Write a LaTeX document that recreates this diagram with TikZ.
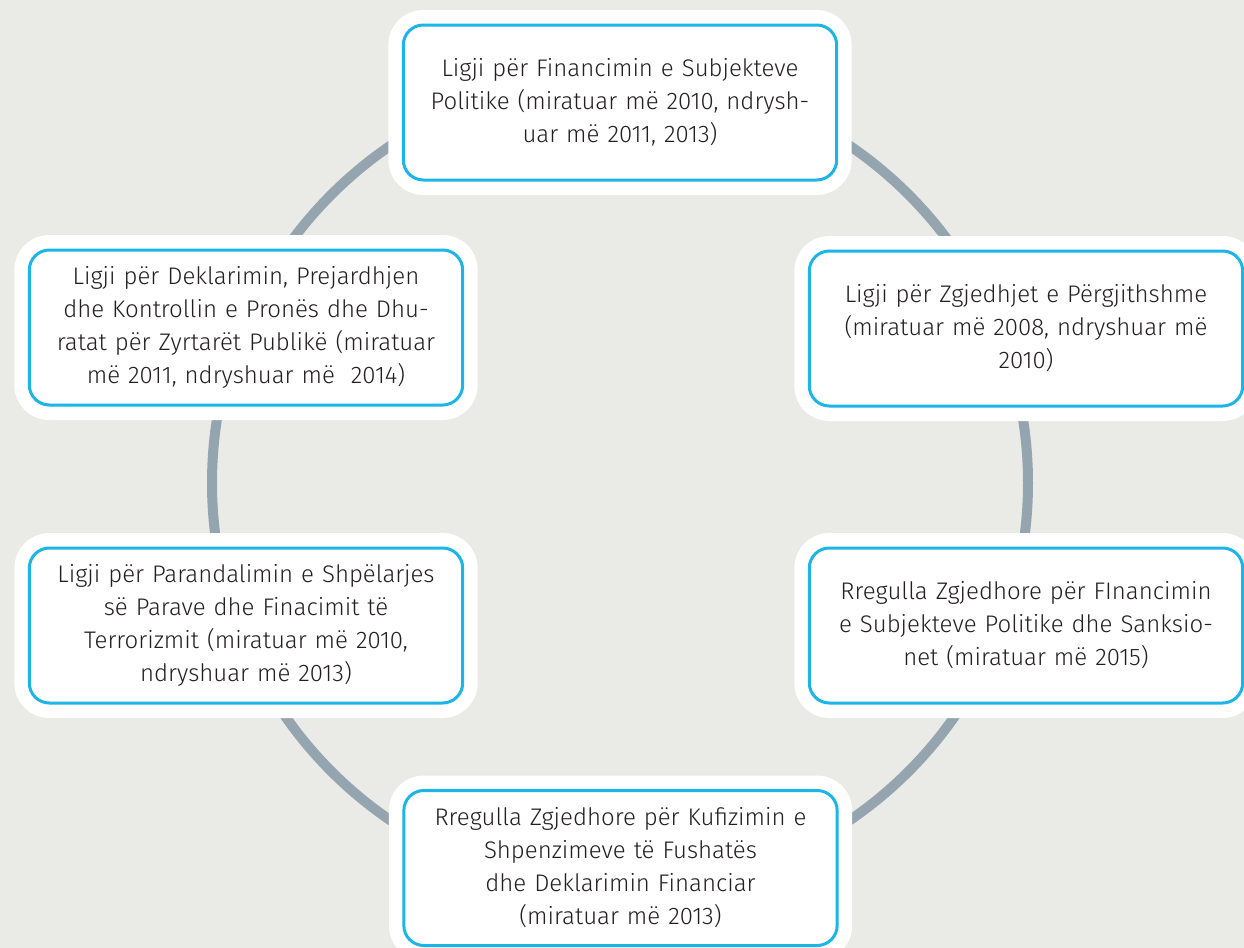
\documentclass[tikz,border=0pt]{standalone}
\usepackage{fontspec}
\setmainfont{Fira Sans Light}
\definecolor{bgcol}{HTML}{EAEAE6}
\definecolor{ringcol}{HTML}{95A5B0}
\definecolor{boxcol}{HTML}{1CB5E8}
\definecolor{textcol}{HTML}{231F20}
\tikzset{
  lawbox/.style={rectangle, rounded corners=10pt, draw=boxcol, line width=1.5pt,
    fill=white, preaction={draw=white, line width=15pt},
    minimum width=215pt, minimum height=77.5pt, text width=210pt,
    align=center, text=textcol, font=\fontsize{12}{16.5}\selectfont}
}
\begin{document}
\begin{tikzpicture}[x=0.5pt,y=-0.5pt]
  \fill[bgcol] (0,0) rectangle (1244,948);
  \useasboundingbox (0,0) rectangle (1244,948);

  \coordinate (centre) at (620,483);
  \draw[ringcol, line width=5pt] (centre) circle[radius=204pt];

  \node[lawbox] (financimi) at (620,102.5)
    {Ligji për Financimin e Subjekteve\\ Politike (miratuar më 2010, ndrysh-\\ uar më 2011, 2013)};
  \node[lawbox] (deklarimi) at (246,327.5)
    {Ligji për Deklarimin, Prejardhjen\\ dhe Kontrollin e Pronës dhe Dhu-\\ ratat për Zyrtarët Publikë (miratuar\\ më 2011, ndryshuar më~ 2014)};
  \node[lawbox] (zgjedhjet) at (1026,328.5)
    {Ligji për Zgjedhjet e Përgjithshme\\ (miratuar më 2008, ndryshuar më\\ 2010)};
  \node[lawbox] (shpelarja) at (246,625.5)
    {Ligji për Parandalimin e Shpëlarjes\\ së Parave dhe Finacimit të\\ Terrorizmit (miratuar më 2010,\\ ndryshuar më 2013)};
  \node[lawbox] (sanksionet) at (1026,625.5)
    {Rregulla Zgjedhore për FInancimin\\ e Subjekteve Politike dhe Sanksio-\\ net (miratuar më 2015)};
  \node[lawbox] (shpenzimet) at (620.5,868)
    {Rregulla Zgjedhore për Kufizimin e\\ Shpenzimeve të Fushatës\\ dhe Deklarimin Financiar\\ (miratuar më 2013)};
\end{tikzpicture}
\end{document}
